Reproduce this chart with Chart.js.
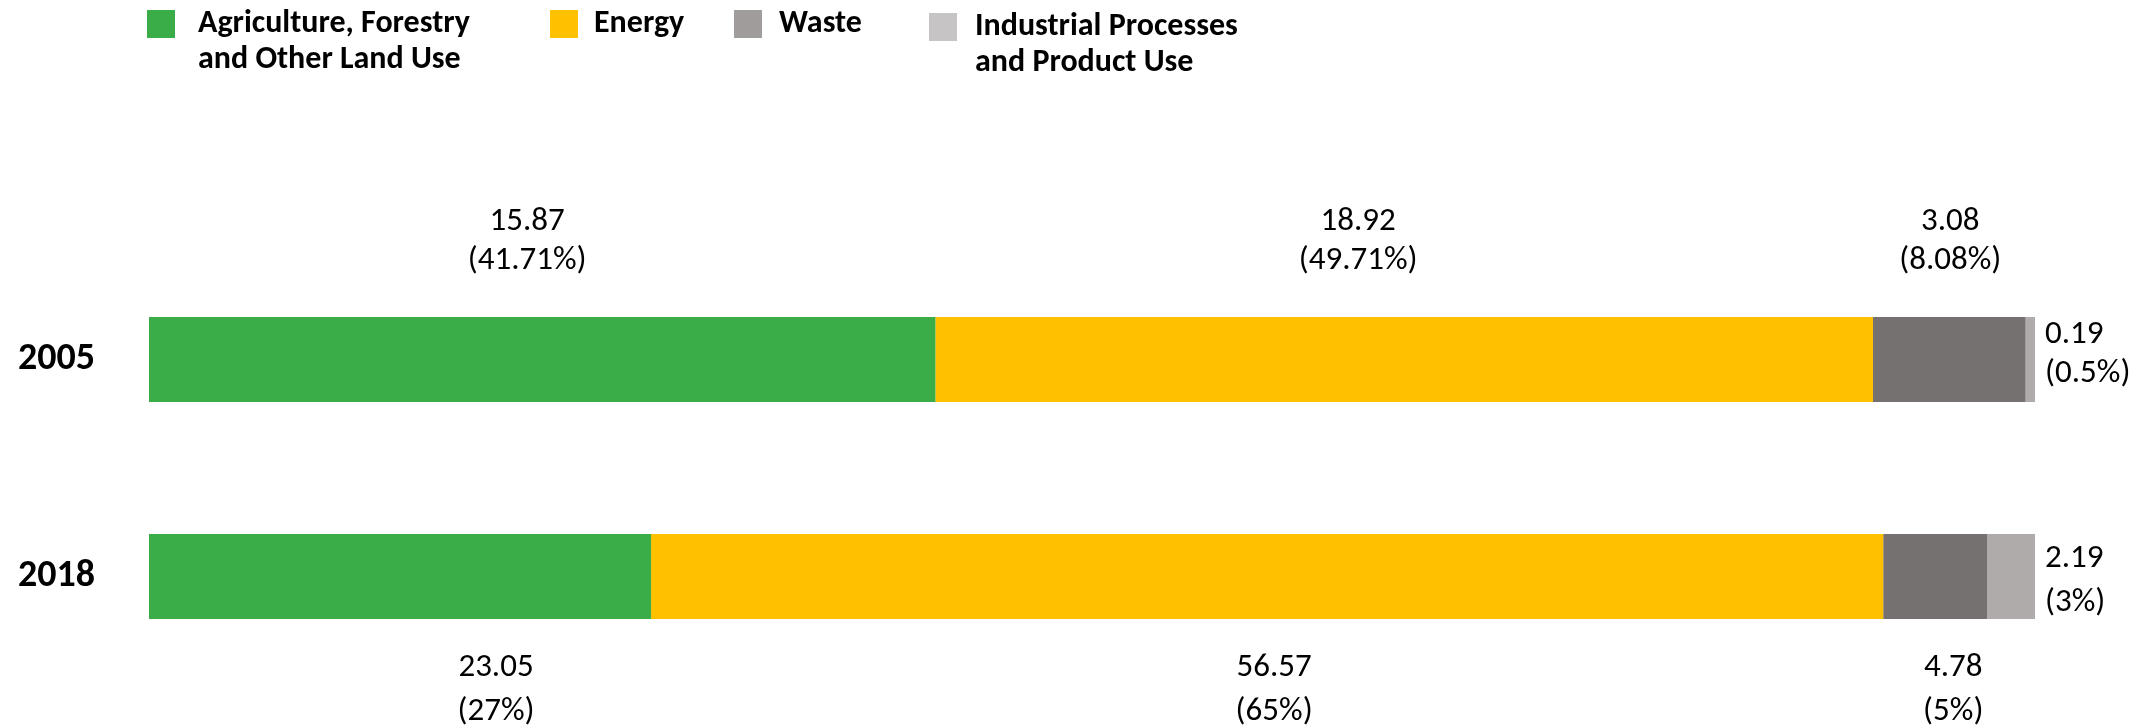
<!DOCTYPE html>
<html>
<head>
<meta charset="utf-8">
<script src="https://cdn.jsdelivr.net/npm/chart.js@4/dist/chart.umd.min.js"></script>
<style>
  html, body { margin: 0; padding: 0; background: #fff; }
  #wrap { width: 2142px; height: 727px; position: relative; }
</style>
</head>
<body>
<div id="wrap"><canvas id="emissionsChart" width="2142" height="727"></canvas></div>
<script>
// Emissions by sector (MtCO2e) and share of the year total
const years = ['2005', '2018'];
const sectors = [
    ['Agriculture, Forestry', 'and Other Land Use'],
    ['Energy'],
    ['Waste'],
    ['Industrial Processes', 'and Product Use']
];
const afolu = [15.87, 23.05];
const energy = [18.92, 56.57];
const waste = [3.08, 4.78];
const ippu = [0.19, 2.19];
const shareText = [
    ['41.71%', '49.71%', '8.08%', '0.5%'],
    ['27%', '65%', '5%', '3%']
];

const barColors = ['#3AAD48', '#FFC000', '#767171', '#AFABAB'];
const legendColors = ['#3AAD48', '#FFC000', '#A09C9C', '#C6C4C4'];
const FONT = 'Carlito, Calibri, "Open Sans", sans-serif';

const seriesValues = [afolu, energy, waste, ippu];
const totals = years.map((y, i) => seriesValues.reduce((s, arr) => s + arr[i], 0));

// label nudges (px) so the text sits where the labels were placed by hand
const labelShift = [
    [-15, -46, 1],
    [96, 7, 18]
];
// vertical offsets of the two lines of the end label, per row
const endLabelDy = [
    [-25, 14],
    [-18, 26]
];

const legendPlugin = {
    id: 'sectorLegend',
    afterDraw(chart) {
        const ctx = chart.ctx;
        const spots = [
            { box: 147, text: 198, top: 10 },
            { box: 550, text: 594, top: 10 },
            { box: 734, text: 779, top: 10 },
            { box: 929, text: 975, top: 13 }
        ];
        ctx.save();
        ctx.font = 'bold 32px ' + FONT;
        ctx.textBaseline = 'middle';
        ctx.textAlign = 'left';
        sectors.forEach((lines, i) => {
            const s = spots[i];
            ctx.fillStyle = legendColors[i];
            ctx.fillRect(s.box, s.top, 28, 28);
            ctx.fillStyle = '#000';
            lines.forEach((line, k) => {
                ctx.fillText(line, s.text, s.top + 14 + k * 36);
            });
        });
        ctx.restore();
    }
};

const valueLabelPlugin = {
    id: 'valueLabels',
    afterDatasetsDraw(chart) {
        const ctx = chart.ctx;
        ctx.save();
        ctx.font = '33px ' + FONT;
        ctx.fillStyle = '#000';
        ctx.textBaseline = 'middle';
        years.forEach((y, i) => {
            chart.data.datasets.forEach((ds, d) => {
                const bar = chart.getDatasetMeta(d).data[i];
                const top = bar.y - bar.height / 2;
                const bottom = bar.y + bar.height / 2;
                const num = seriesValues[d][i].toFixed(2);
                const pct = '(' + shareText[i][d] + ')';
                if (d === 3) {
                    // smallest slice: label to the right of the bar end
                    ctx.textAlign = 'left';
                    ctx.fillText(num, bar.x + 10, bar.y + endLabelDy[i][0]);
                    ctx.fillText(pct, bar.x + 10, bar.y + endLabelDy[i][1]);
                    return;
                }
                ctx.textAlign = 'center';
                const cx = bar.base + (bar.x - bar.base) / 2 + labelShift[i][d];
                if (i === 0) {
                    ctx.fillText(num, cx, top - 95);
                    ctx.fillText(pct, cx, top - 56);
                } else {
                    ctx.fillText(num, cx, bottom + 49);
                    ctx.fillText(pct, cx, bottom + 93);
                }
            });
        });
        ctx.restore();
    }
};

new Chart(document.getElementById('emissionsChart'), {
    type: 'bar',
    data: {
        labels: years,
        datasets: seriesValues.map((vals, d) => ({
            label: sectors[d].join(' '),
            data: vals.map((v, i) => v / totals[i] * 100),
            backgroundColor: barColors[d],
            borderWidth: 0,
            categoryPercentage: 1,
            barPercentage: 0.392
        }))
    },
    options: {
        indexAxis: 'y',
        responsive: false,
        animation: false,
        layout: { padding: { left: 18, right: 107, top: 251, bottom: 42 } },
        plugins: {
            legend: { display: false },
            tooltip: { enabled: false }
        },
        scales: {
            x: {
                stacked: true,
                min: 0,
                max: 100,
                display: false
            },
            y: {
                stacked: true,
                grid: { display: false, drawTicks: false },
                border: { display: false },
                ticks: {
                    padding: 0,
                    crossAlign: 'far',
                    color: '#000',
                    font: { family: FONT, size: 38, weight: 'bold' }
                },
                afterFit(scale) { scale.width = 131; }
            }
        }
    },
    plugins: [legendPlugin, valueLabelPlugin]
});
</script>
</body>
</html>
